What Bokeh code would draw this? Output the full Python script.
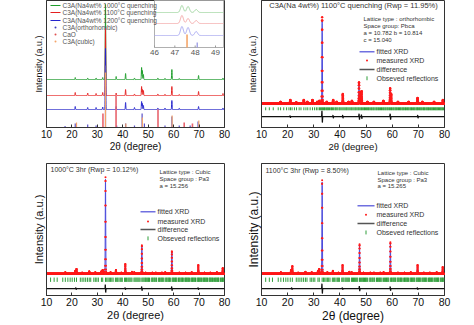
import numpy as np
from bokeh.plotting import figure
from bokeh.layouts import gridplot
from bokeh.models import Range1d, FixedTicker, Label
from bokeh.embed import file_html
from bokeh.resources import INLINE

FONT = "Liberation Sans"
TXT = "#333333"

# ---------------- data ----------------
x_ticks = [10, 20, 30, 40, 50, 60, 70, 80]
inset_ticks = [46, 47, 48, 49]

# (a) three quenched samples (peak positions, heights in a.u.)
a_pos = [21.3, 26.2, 29.5, 32.1, 33.2, 37.4, 41.1, 44.6, 47.4, 47.7, 48.1, 53.8, 56.6, 59.3, 62.2, 69.8, 79.4]
a_1000_h = [2, 1.5, 1.5, 2, 75, 3, 6, 1.5, 12, 9, 5, 1.5, 1.2, 10, 1, 4, 1.5]
a_1100_h = [3, 2.5, 2, 3, 67, 2.5, 6, 1.5, 9, 6, 5, 1.5, 1.2, 9, 1, 4, 2]
a_1200_h = [3, 2, 2, 2.5, 61, 3, 7, 2, 8, 6, 4, 1.5, 1.5, 9, 1.2, 3, 1.5]
# reference sticks
ortho_pos = [17.3, 21.3, 26.2, 29.5, 33.2, 37.6, 41.1, 44.6, 47.6, 48.5, 56.6, 59.3, 62.2, 66.5, 69.6]
ortho_h = [1.5, 4, 3, 2, 62, 2, 4, 2, 14, 4, 2, 11, 2, 2, 6]
cao_pos = [32.2, 37.35, 53.85, 64.15, 67.4]
cao_h = [14, 32, 18, 5, 4]
cubic_pos = [21.8, 33.2, 41.2, 47.7, 59.4, 69.9]
cubic_h = [5, 55, 4, 10, 12, 7]
# inset 46-49.4
inset_pos = [47.35, 47.65, 48.05]
inset_1000_h = [7, 6, 3]
inset_1100_h = [8, 5, 3]
inset_1200_h = [9, 8, 4]
inset_cubic_pos = [47.6]
inset_cubic_h = [13]
inset_ortho_pos = [48.1]
inset_ortho_h = [5]

# (b) orthorhombic refinement
b_pos = [17.3, 21.0, 23.3, 26.2, 27.5, 29.5, 31.3, 32.1, 33.2, 35.0, 37.4, 38.8, 41.1, 43.3, 44.6,
         47.3, 47.7, 48.3, 50.5, 53.0, 56.6, 59.2, 59.6, 62.2, 66.3, 69.7, 71.5, 76.0, 79.4]
b_meas_h = [2, 4, 1.5, 4, 2, 4, 2, 3, 88, 2, 4, 2, 10, 2, 3, 22, 12, 13, 2, 2, 3, 16, 10, 2, 2, 6, 2, 2, 4]
b_fit_h = [2, 4, 1.5, 4, 2, 4, 2, 3, 85, 2, 4, 2, 10, 2, 3, 21, 12, 13, 2, 2, 3, 15, 10, 2, 2, 6, 2, 2, 4]
b_diff_pos = [21.0, 33.2, 37.4, 41.1, 47.4, 48.3, 59.3, 69.8]
b_diff_amp = [1, 6, 1.5, 1.5, 3, 2, 3, 1.5]
b_refl = [11.6, 13.0, 14.5, 16.4, 17.3, 18.5, 19.6, 20.5, 21.1, 21.7, 22.6, 23.4, 24.4, 25.1, 26.2, 27.0,
          27.7, 28.6, 29.5, 30.3, 31.0, 31.6, 32.2, 32.6, 33.0, 33.3, 33.7, 34.1, 34.4, 34.9, 35.2, 35.6,
          36.0, 36.5, 36.8, 37.2, 37.6, 38.1, 38.4, 38.8, 39.2, 39.7, 40.0, 40.4, 40.8, 41.2, 41.6, 42.0,
          42.4, 42.7, 43.1, 43.5, 43.9, 44.3, 44.6, 45.0, 45.4, 45.8, 46.1, 46.5, 46.9, 47.2, 47.6, 48.0,
          48.3, 48.7, 49.1, 49.4, 49.8, 50.2, 50.5, 50.9, 51.2, 51.6, 52.0, 52.3, 52.7, 53.0, 53.4, 53.8,
          54.1, 54.5, 54.8, 55.2, 55.5, 55.9, 56.2, 56.6, 56.9, 57.3, 57.6, 58.0, 58.3, 58.7, 59.0, 59.4,
          59.7, 60.0, 60.4, 60.7, 61.1, 61.4, 61.7, 62.1, 62.4, 62.8, 63.1, 63.4, 63.8, 64.1, 64.4, 64.8,
          65.1, 65.4, 65.8, 66.1, 66.4, 66.8, 67.1, 67.4, 67.7, 68.1, 68.4, 68.7, 69.1, 69.4, 69.7, 70.0,
          70.4, 70.7, 71.0, 71.3, 71.7, 72.0, 72.3, 72.6, 73.0, 73.3, 73.6, 73.9, 74.2, 74.6, 74.9, 75.2,
          75.5, 75.8, 76.2, 76.5, 76.8, 77.1, 77.4, 77.7, 78.1, 78.4, 78.7, 79.0, 79.3, 79.6]

# (c), (d) cubic refinements
cd_pos = [17.4, 21.3, 21.8, 24.0, 26.8, 29.2, 31.6, 32.1, 33.2, 35.2, 37.3, 39.4, 41.0, 43.6, 44.5,
          47.5, 49.0, 51.6, 53.0, 55.4, 56.7, 59.3, 62.2, 64.7, 67.1, 69.7, 72.1, 74.4, 77.0, 79.3]
c_meas_h = [1.5, 3, 5, 1.2, 2.5, 1.5, 2.5, 4, 98, 1.5, 4, 1.2, 10, 2, 1.5, 29, 1.2, 1.2, 1.2, 1.2, 1.5, 23,
            1.2, 1.2, 1.5, 9, 1.2, 1.2, 1.5, 6]
c_fit_h = [1.5, 3, 5, 1.2, 2.5, 1.5, 2.5, 4, 96, 1.5, 4, 1.2, 10, 2, 1.5, 28, 1.2, 1.2, 1.2, 1.2, 1.5, 22,
           1.2, 1.2, 1.5, 9, 1.2, 1.2, 1.5, 6]
c_diff_pos = [21.6, 33.2, 41.0, 47.5, 59.3, 69.7]
c_diff_amp = [1, 4, 1, 2, 2, 1]
d_meas_h = [1.5, 4, 8, 1.2, 2, 1.5, 3, 5, 95, 1.5, 3, 1.2, 9, 2, 1.5, 30, 1.2, 1.2, 1.2, 1.2, 1.5, 32,
            1.2, 1.2, 1.5, 9, 1.2, 1.2, 1.5, 7]
d_fit_h = [1.5, 4, 8, 1.2, 2, 1.5, 3, 5, 93, 1.5, 3, 1.2, 9, 2, 1.5, 29, 1.2, 1.2, 1.2, 1.2, 1.5, 31,
           1.2, 1.2, 1.5, 9, 1.2, 1.2, 1.5, 7]
d_diff_pos = [21.6, 33.2, 41.0, 47.5, 59.3, 69.7]
d_diff_amp = [1, 5, 1, 2.5, 2, 1]
cubic_refl = [11.6, 13.0, 14.2, 16.4, 17.4, 18.4, 19.3, 20.1, 21.0, 21.8, 23.3, 24.0, 24.7, 25.4, 26.1,
              26.8, 27.4, 28.6, 29.2, 29.8, 30.4, 31.6, 32.1, 33.2, 33.7, 34.2, 34.7, 35.2, 35.7, 36.2,
              37.1, 37.6, 38.0, 38.5, 39.0, 39.4, 39.8, 40.7, 41.1, 41.5, 42.0, 42.4, 42.8, 43.2, 43.6,
              44.4, 44.8, 45.2, 45.6, 46.0, 46.4, 46.8, 47.5, 47.9, 48.3, 48.7, 49.0, 49.4, 49.8, 50.1,
              50.5, 51.2, 51.6, 51.9, 52.3, 52.6, 53.0, 53.3, 54.0, 54.4, 54.7, 55.1, 55.4, 55.7, 56.1,
              56.7, 57.1, 57.4, 57.8, 58.1, 58.4, 58.7, 59.4, 59.7, 60.0, 60.4, 60.7, 61.0, 61.3, 61.9,
              62.2, 62.5, 62.9, 63.2, 63.5, 63.8, 64.4, 64.7, 65.0, 65.3, 65.6, 65.9, 66.2, 66.8, 67.1,
              67.4, 67.7, 68.0, 68.3, 68.6, 69.2, 69.5, 69.8, 70.1, 70.4, 70.7, 71.0, 71.5, 71.8, 72.1,
              72.4, 72.7, 73.0, 73.3, 73.9, 74.2, 74.4, 74.7, 75.0, 75.3, 75.6, 76.1, 76.4, 76.7, 77.0,
              77.3, 77.6, 77.8, 78.4, 78.7, 79.0, 79.2, 79.5, 79.8]

# ---------------- helpers ----------------
grid = np.arange(10.0, 80.0001, 0.025)


def peaks(g, pos, h, s):
    out = np.zeros_like(g)
    for c, a in zip(pos, h):
        out += a * np.exp(-0.5 * ((g - c) / s) ** 2)
    return out


def dpeaks(g, pos, amp, s):
    out = np.zeros_like(g)
    for c, a in zip(pos, amp):
        u = (g - c) / s
        out += a * (-u) * np.exp(0.5 - 0.5 * u * u)
    return out


class Frame:
    def __init__(self, L, R, T, B):
        self.L, self.R, self.T, self.B = L, R, T, B

    def x(self, px):
        return 10 + (np.asarray(px, dtype=float) - self.L) * 70.0 / (self.R - self.L)

    def y(self, py):
        return self.B - np.asarray(py, dtype=float)


def make_fig(F, width, height, left, right, top, bottom, tick_fs, xl_fs, yl_fs, yl_stand):
    p = figure(width=width, height=height, x_range=Range1d(10, 80), y_range=Range1d(0, F.B - F.T),
               output_backend="svg", toolbar_location=None,
               min_border_left=left, min_border_right=right, min_border_top=top, min_border_bottom=bottom)
    p.xgrid.visible = False
    p.ygrid.visible = False
    p.outline_line_color = "#333333"
    p.outline_line_width = 1
    p.background_fill_color = "white"
    p.border_fill_color = "white"
    ax = p.xaxis[0]
    ax.ticker = FixedTicker(ticks=x_ticks)
    ax.minor_tick_line_color = None
    ax.major_tick_in = 3
    ax.major_tick_out = 0
    ax.major_tick_line_color = "#333333"
    ax.axis_line_color = "#333333"
    ax.major_label_standoff = 2
    ax.major_label_text_font = FONT
    ax.major_label_text_font_size = f"{tick_fs}px"
    ax.major_label_text_color = "#111111"
    ax.axis_label = "2θ (degree)"
    ax.axis_label_text_font = FONT
    ax.axis_label_text_font_style = "normal"
    ax.axis_label_text_font_size = f"{xl_fs}px"
    ax.axis_label_text_color = "#111111"
    ax.axis_label_standoff = 0
    ay = p.yaxis[0]
    ay.ticker = FixedTicker(ticks=[])
    ay.minor_tick_line_color = None
    ay.major_tick_line_color = None
    ay.axis_line_color = "#333333"
    ay.axis_label = "Intensity (a.u.)"
    ay.axis_label_text_font = FONT
    ay.axis_label_text_font_style = "normal"
    ay.axis_label_text_font_size = f"{yl_fs}px"
    ay.axis_label_text_color = "#111111"
    ay.axis_label_standoff = yl_stand
    return p


def lab(p, F, px, py, text, size, align="left", bold=False, color=TXT):
    p.add_layout(Label(x=float(F.x(px)), y=float(F.y(py)), text=text, text_font=FONT,
                       text_font_size=f"{size}px", text_align=align, text_baseline="middle",
                       text_color=color, text_font_style="bold" if bold else "normal"))


GREEN_A = "#1f9e2c"
RED_A = "#e42020"
BLUE_A = "#2424cc"
FIT = "#4b4bdc"
MEAS = "#ff1a1a"
REFL = "#2f9e3a"

# ---------------- (a) ----------------
FA = Frame(46, 224, 0, 127)
pa = make_fig(FA, 237, 160, 46, 13, 0, 33, 10, 10, 9, 3)
for base_py, hs, col in [(79, a_1000_h, GREEN_A), (95, a_1100_h, RED_A), (109, a_1200_h, BLUE_A)]:
    pa.line(grid, FA.y(base_py) + peaks(grid, a_pos, hs, 0.09), line_color=col, line_width=1)
pa.segment(x0=ortho_pos, y0=0, x1=ortho_pos, y1=ortho_h, line_color="#5a4fc8", line_width=1.2)
pa.segment(x0=cao_pos, y0=0, x1=cao_pos, y1=cao_h, line_color="#e8646e", line_width=1.6)
pa.segment(x0=cubic_pos, y0=0, x1=cubic_pos, y1=cubic_h, line_color="#f4a468", line_width=1.2)

# legend of (a)
for py, col in [(5, GREEN_A), (12, RED_A), (20, BLUE_A)]:
    pa.line(FA.x([50, 60]), FA.y([py, py]), line_color=col, line_width=1)
for py, col in [(27, "#4040c0"), (34, "#e05050"), (41, "#f4a468")]:
    pa.scatter([float(FA.x(55))], [float(FA.y(py))], size=2, color=col, line_width=0)
leg_a = ["C3A(Na4wt% 1000°C quenching", "C3A(Na4wt% 1100°C quenching", "C3A(Na4wt% 1200°C quenching",
         "C3A(orthorhombic)", "CaO", "C3A(cubic)"]
for py, t in zip([5, 12, 20, 27, 34, 41], leg_a):
    lab(pa, FA, 62, py, t, 6.5, color="#555555")


# inset
def IX(v):
    return FA.x(154 + (np.asarray(v, dtype=float) - 46) * (215 - 154) / 3.0)


pa.quad(left=float(IX(46)), right=float(IX(49.4)), bottom=float(FA.y(47)), top=float(FA.y(-2)),
        fill_color="white", line_color="#b0b0b0", line_width=1)
gi = np.arange(46.0, 49.4, 0.01)
for base_py, hs, col in [(12, inset_1000_h, "#9fd49f"), (23, inset_1100_h, "#f2a8a8"), (35, inset_1200_h, "#a8a8f0")]:
    pa.line(IX(gi), FA.y(base_py) + peaks(gi, inset_pos, hs, 0.07), line_color=col, line_width=1)
pa.segment(x0=IX(inset_cubic_pos), y0=float(FA.y(47)), x1=IX(inset_cubic_pos),
           y1=float(FA.y(47)) + np.array(inset_cubic_h), line_color="#f4a060", line_width=1.5)
pa.segment(x0=IX(inset_ortho_pos), y0=float(FA.y(47)), x1=IX(inset_ortho_pos),
           y1=float(FA.y(47)) + np.array(inset_ortho_h), line_color="#9090e0", line_width=1.2)
pa.segment(x0=IX(inset_ticks), y0=float(FA.y(47)), x1=IX(inset_ticks), y1=float(FA.y(45)),
           line_color="#999999", line_width=1)
for t in inset_ticks:
    pa.add_layout(Label(x=float(IX(t)), y=float(FA.y(52)), text=str(t), text_font=FONT,
                        text_font_size="8px", text_align="center", text_baseline="middle", text_color="#555555"))
lab(pa, FA, 25, 7, "(a)", 13, bold=True, color="#111111")


# ---------------- refinement panels ----------------
def refinement(p, F, pos, meas_h, fit_h, dpos, damp, refl, base_py, refl_py, diff_py, dot, tick_half):
    p.line(grid, F.y(base_py) + peaks(grid, pos, fit_h, 0.09), line_color=FIT, line_width=1)
    p.scatter(grid, F.y(base_py) + peaks(grid, pos, meas_h, 0.09), size=dot, color=MEAS, line_width=0)
    r = float(F.y(refl_py))
    p.segment(x0=refl, y0=r - tick_half, x1=refl, y1=r + tick_half, line_color=REFL, line_width=1)
    p.line(grid, F.y(diff_py) + dpeaks(grid, dpos, damp, 0.08), line_color="#111111", line_width=1.2)


def legend(p, F, gx0, gx1, tx, rows, size):
    gm = (gx0 + gx1) / 2
    p.line(F.x([gx0, gx1]), F.y([rows[0], rows[0]]), line_color="#7070e0", line_width=1.5)
    p.scatter([float(F.x(gm))], [float(F.y(rows[1]))], size=2, color=MEAS, line_width=0)
    p.line(F.x([gx0, gx1]), F.y([rows[2], rows[2]]), line_color="#555555", line_width=1.5)
    p.segment(x0=[float(F.x(gm))], y0=[float(F.y(rows[3])) - 2], x1=[float(F.x(gm))],
              y1=[float(F.y(rows[3])) + 2], line_color=REFL, line_width=1)
    for py, t in zip(rows, ["fitted XRD", "measured XRD", "difference", "Obseved reflections"]):
        lab(p, F, tx, py, t, size)


# (b)
FB = Frame(261, 444, 0, 129)
pb = make_fig(FB, 237, 160, 24, 30, 0, 31, 10, 9.5, 9, 4)
refinement(pb, FB, b_pos, b_meas_h, b_fit_h, b_diff_pos, b_diff_amp, b_refl, 105, 110, 118, 2.4, 1.5)
legend(pb, FB, 359, 374, 376, [52, 61, 70, 79], 7)
lab(pb, FB, 353, 5, "C3A(Na 4wt%) 1100°C quenching (Rwp = 11.95%)", 7.5, align="center")
for py, t in zip([19, 26, 33, 40], ["Lattice type : orthorhombic", "Space group: Pbca",
                                    " a = 10.782   b = 10.814", " c = 15.040"]):
    lab(pb, FB, 363, py, t, 6)
lab(pb, FB, 240, 8, "(b)", 13, bold=True, color="#111111")

# (c)
FC = Frame(46, 224, 163, 297)
pc = make_fig(FC, 237, 165, 46, 13, 3, 28, 10.5, 11, 11, 2)
refinement(pc, FC, cd_pos, c_meas_h, c_fit_h, c_diff_pos, c_diff_amp, cubic_refl, 275, 281, 290, 2.0, 2.2)
legend(pc, FC, 140, 155, 157, [212, 222, 230, 239], 7)
lab(pc, FC, 50, 169, "1000°C 3hr (Rwp = 10.12%)", 7)
for py, t in zip([172, 178.5, 185.5], ["Lattice type : Cubic", "Space group : Pa3", "a = 15.256"]):
    lab(pc, FC, 159, py, t, 6)
lab(pc, FC, 25, 171, "(c)", 13, bold=True, color="#111111")

# (d)
FD = Frame(261, 444, 163, 297)
pd = make_fig(FD, 237, 165, 24, 30, 3, 28, 10.5, 12, 12, 1)
refinement(pd, FD, cd_pos, d_meas_h, d_fit_h, d_diff_pos, d_diff_amp, cubic_refl, 275, 281, 290, 2.0, 2.2)
legend(pd, FD, 357, 374, 376, [206, 215, 224, 233], 7)
lab(pd, FD, 265, 170, "1100°C 3hr (Rwp = 8.50%)", 7)
for py, t in zip([173, 179.5, 186], ["Lattice type : Cubic", "Space group : Pa3", "a = 15.265"]):
    lab(pd, FD, 377, py, t, 6)
lab(pd, FD, 240, 170, "(d)", 13, bold=True, color="#111111")

grid_layout = gridplot([[pa, pb], [pc, pd]], toolbar_location=None)
open("out.html", "w").write(file_html(grid_layout, INLINE))
